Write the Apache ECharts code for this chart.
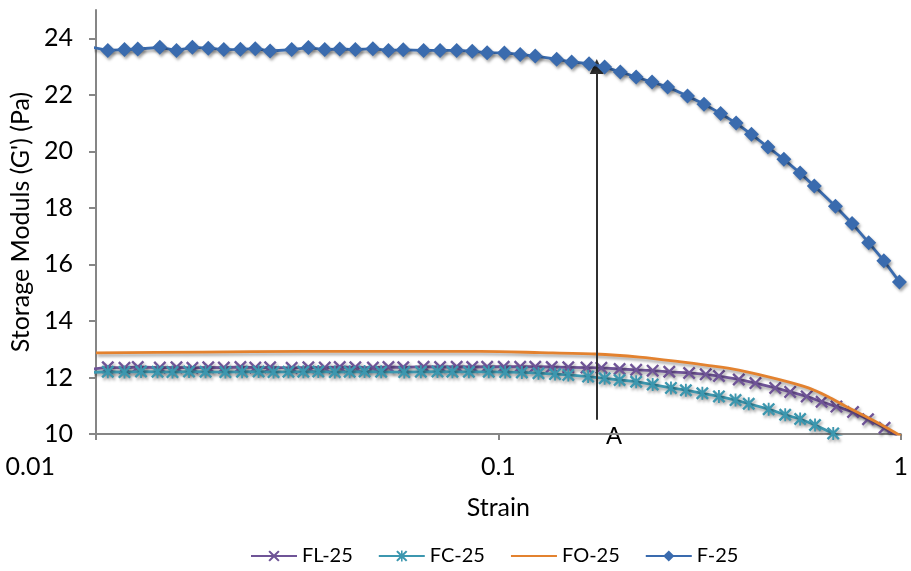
<!DOCTYPE html>
<html><head><meta charset="utf-8">
<script src="https://cdn.jsdelivr.net/npm/echarts@6/dist/echarts.min.js"></script>
<style>html,body{margin:0;padding:0;background:#fff}#c{width:911px;height:571px}</style>
</head><body><div id="c"></div>
<script>
const seriesNames = ['FL-25', 'FC-25', 'FO-25', 'F-25'];

const strainFL = [0.0098,0.0107,0.01177,0.0127,0.01441,0.01585,0.01736,0.01901,0.02078,0.02285,0.02488,0.02709,0.03064,0.03371,0.03703,0.04034,0.04411,0.04877,0.0533,0.05803,0.06519,0.07164,0.07877,0.08611,
  0.09378,0.1031,0.1133,0.1235,0.1357,0.1492,0.1656,0.1803,0.2001,0.22,0.2418,0.2659,0.2979,0.3276,0.3533,0.3958,0.4354,0.4876,0.5311,0.5838,0.6357,0.6921,0.7612,0.8292,0.9116,0.98];
const gFL = [12.30,12.36,12.34,12.37,12.35,12.36,12.34,12.36,12.35,12.37,12.35,12.36,12.34,12.36,12.35,12.37,12.36,12.35,12.37,12.36,12.38,12.37,12.38,12.37,
  12.38,12.38,12.38,12.38,12.37,12.36,12.35,12.34,12.30,12.27,12.24,12.20,12.16,12.11,12.05,11.93,11.80,11.63,11.49,11.33,11.14,10.97,10.78,10.52,10.22,9.95];

const strainFC = [0.0097,0.0107,0.01177,0.01294,0.01422,0.01549,0.01703,0.01872,0.02097,0.02307,0.02536,0.02762,0.03008,0.03276,0.03568,0.03922,0.0427,0.0465,0.05113,0.05836,0.06418,0.07058,0.07686,0.08447,
  0.09465,0.104,0.1144,0.1258,0.1383,0.1492,0.1671,0.1837,0.2001,0.22,0.2418,0.2685,0.2924,0.3213,0.3533,0.3885,0.419,0.4696,0.5162,0.5623,0.6123,0.6795,0.72];
const gFC = [12.18,12.20,12.19,12.21,12.20,12.19,12.21,12.20,12.19,12.20,12.21,12.19,12.20,12.20,12.21,12.19,12.20,12.21,12.20,12.19,12.20,12.21,12.20,12.20,
  12.20,12.19,12.18,12.15,12.12,12.09,12.03,11.97,11.91,11.85,11.75,11.63,11.55,11.44,11.33,11.20,11.07,10.88,10.68,10.53,10.32,10.02,9.88];

const strainFO = [0.01,0.01837,0.03245,0.05728,0.09027,0.127,0.1736,0.2241,0.2814,0.3338,0.3958,0.4969,0.5894,0.66,0.7273,0.8625,1.0];
const gFO = [12.87,12.90,12.92,12.92,12.92,12.88,12.83,12.72,12.56,12.42,12.26,11.93,11.63,11.32,10.99,10.45,9.93];

const strainF = [0.0098,0.0107,0.01177,0.0127,0.01441,0.01585,0.01736,0.01901,0.02078,0.02285,0.02488,0.02709,0.03064,0.03371,0.03703,0.04034,0.04411,0.04877,0.0533,0.05803,0.06519,0.07164,0.07877,0.08611,
  0.09378,0.1035,0.1133,0.1235,0.1396,0.1521,0.168,0.1837,0.2009,0.22,0.241,0.2634,0.2951,0.3244,0.3567,0.3898,0.4256,0.4677,0.5123,0.5623,0.6099,0.6882,0.7568,0.8324,0.9078,0.9926];
const gF = [23.68,23.57,23.60,23.62,23.68,23.57,23.68,23.65,23.60,23.61,23.63,23.55,23.60,23.67,23.60,23.62,23.60,23.63,23.57,23.59,23.57,23.57,23.57,23.54,
  23.49,23.48,23.43,23.37,23.26,23.16,23.10,22.98,22.81,22.63,22.45,22.28,21.96,21.67,21.34,21.00,20.60,20.15,19.72,19.23,18.77,18.06,17.45,16.77,16.13,15.38];

const yTickValues = [10, 12, 14, 16, 18, 20, 22, 24];
const xTickValues = [0.01, 0.1, 1];
const xAxisTitle = 'Strain';
const yAxisTitle = "Storage Moduls (G') (Pa)";
const arrowStrain = 0.1756, arrowFrom = 10.5, arrowTo = 23.0;
const arrowLabel = 'A';

const zip = (xs, ys) => xs.map((x, i) => [x, ys[i]]);
const FONT = 'Lato';
const colors = ['#6F5497', '#3C97AF', '#E3822F', '#3A6BAE'];
const xPath = 'path://M0,1.3 L1.3,0 L5,3.7 L8.7,0 L10,1.3 L6.3,5 L10,8.7 L8.7,10 L5,6.3 L1.3,10 L0,8.7 L3.7,5 Z';
const starPath = 'path://M0,1.3 L1.3,0 L5,3.7 L8.7,0 L10,1.3 L6.3,5 L10,8.7 L8.7,10 L5,6.3 L1.3,10 L0,8.7 L3.7,5 Z M4.3,0 L5.7,0 L5.7,10 L4.3,10 Z';
const shadow = {shadowColor: 'rgba(0,0,0,0.35)', shadowBlur: 3, shadowOffsetX: 1.5, shadowOffsetY: 2.5};

const chart = echarts.init(document.getElementById('c'), null, {renderer: 'canvas'});
const mk = (i, xs, ys, symbol, size, extra) => Object.assign({
  name: seriesNames[i], type: 'line', data: zip(xs, ys), clip: true,
  symbol: symbol, symbolSize: size, showSymbol: true,
  color: colors[i],
  lineStyle: Object.assign({width: 2.8, color: colors[i]}, shadow),
  itemStyle: Object.assign({color: colors[i]}, shadow),
  emphasis: {disabled: true}, z: 2 + i
}, extra || {});

chart.setOption({
  animation: false,
  backgroundColor: '#fff',
  grid: {left: 93, right: 8, top: 10, bottom: 137, containLabel: false},
  legend: {
    left: 250, top: 546, padding: 0, itemWidth: 46, itemHeight: 14, itemGap: 25,
    textStyle: {fontFamily: FONT, fontSize: 20, color: '#000'},
    data: [
      {name: seriesNames[0]},
      {name: seriesNames[1]},
      {name: seriesNames[2], itemStyle: {opacity: 0}},
      {name: seriesNames[3]}
    ]
  },
  xAxis: {
    type: 'log', logBase: 10, min: 0.01, max: 1,
    name: xAxisTitle, nameLocation: 'middle', nameGap: 61,
    nameTextStyle: {fontFamily: FONT, fontSize: 25, color: '#000'},
    axisLine: {lineStyle: {color: '#868686', width: 2}},
    axisTick: {show: true, inside: false, length: 6, lineStyle: {color: '#868686', width: 2}},
    axisLabel: {fontFamily: FONT, fontSize: 25, color: '#000', margin: 20,
      alignMinLabel: 'right',
      formatter: v => (v === xTickValues[0] ? '{first|' + v + '}' : String(v)),
      rich: {first: {fontFamily: FONT, fontSize: 25, color: '#000', padding: [0, 41, 0, 0]}}},
    splitLine: {show: false}, minorTick: {show: false}
  },
  yAxis: {
    type: 'value', min: 10, max: 25, interval: 2,
    name: yAxisTitle, nameLocation: 'middle', nameGap: 63, nameRotate: 90,
    nameTextStyle: {fontFamily: FONT, fontSize: 25, color: '#000'},
    axisLine: {show: true, lineStyle: {color: '#868686', width: 2}},
    axisTick: {show: true, inside: false, length: 7, lineStyle: {color: '#868686', width: 2}, customValues: yTickValues},
    axisLabel: {fontFamily: FONT, fontSize: 25, color: '#000', margin: 23, customValues: yTickValues},
    splitLine: {show: false}
  },
  series: [
    mk(0, strainFL, gFL, xPath, 13),
    mk(1, strainFC, gFC, starPath, 13),
    mk(2, strainFO, gFO, 'circle', 8, {smooth: 0.3, showSymbol: false}),
    mk(3, strainF, gF, 'diamond', 15, {
      markLine: {
        silent: true, animation: false,
        symbol: ['none', 'triangle'], symbolSize: [14, 15],
        label: {show: false},
        lineStyle: {color: '#303030', width: 2, type: 'solid', shadowBlur: 0, shadowOffsetX: 0, shadowOffsetY: 0},
        data: [[{coord: [arrowStrain, arrowFrom]}, {coord: [arrowStrain, arrowTo]}]]
      }
    })
  ],
  graphic: [{
    type: 'text', left: 606, top: 425, silent: true,
    style: {text: arrowLabel, font: '24px "Liberation Sans"', fill: '#000'}
  }]
});
</script>
</body></html>
